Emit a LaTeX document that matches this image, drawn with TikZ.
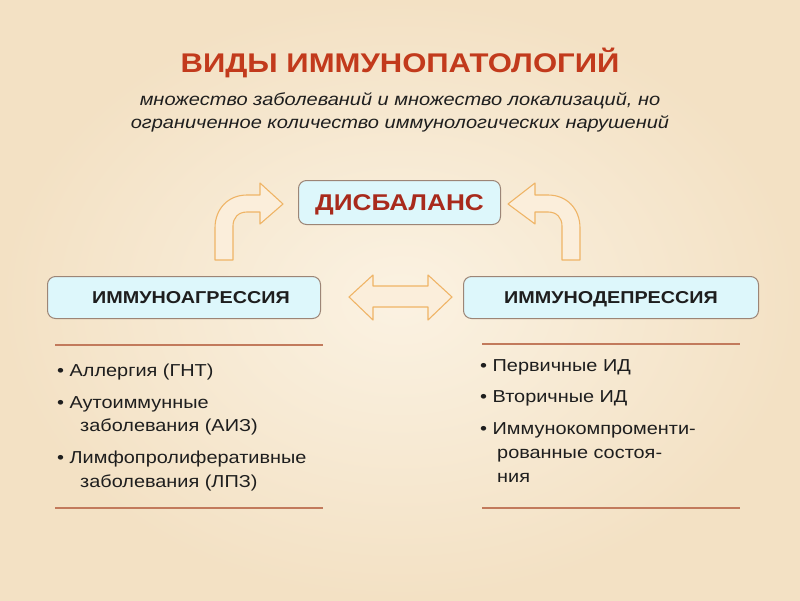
\documentclass[tikz,border=0pt]{standalone}
\usepackage{fontspec}
\setmainfont[FakeStretch=1.15]{Liberation Sans}
\definecolor{bgin}{HTML}{FBF2E2}
\definecolor{bgout}{HTML}{F3E1C4}
\definecolor{titlered}{HTML}{C23A1C}
\definecolor{disred}{HTML}{A82A1C}
\definecolor{boxfill}{HTML}{DDF7FB}
\definecolor{boxline}{HTML}{9C8576}
\definecolor{arrline}{HTML}{EFB466}
\definecolor{arrfill}{HTML}{FBEEDB}
\definecolor{rule}{HTML}{C27A5C}
\definecolor{txt}{HTML}{1E1E1E}
\tikzset{
  mainbox/.style={draw=boxline, line width=1pt, fill=boxfill, rounded corners=8pt, inner sep=0pt, anchor=north west},
  boxlabel/.style={anchor=base, inner sep=0pt, font=\fontsize{17.2}{20}\selectfont\bfseries, text=txt},
  blockarrow/.style={draw=arrline, line width=1.1pt, fill=arrfill, line join=round},
  rulerline/.style={draw=rule, line width=1.6pt},
  listtxt/.style={anchor=base west, inner sep=0pt, font=\fontsize{17.3}{20}\selectfont, text=txt},
}
\begin{document}
\begin{tikzpicture}[x=1pt,y=-1pt]
\shade[inner color=bgin, outer color=bgout] (0,0) rectangle (800,600);
\useasboundingbox (0,0) rectangle (800,600);
% title
\node[anchor=base] (title) at (400,72) {\fontsize{27}{30}\selectfont\bfseries\color{titlered}ВИДЫ ИММУНОПАТОЛОГИЙ};
\node[anchor=base] (sub1) at (400,105) {\fontsize{17.4}{20}\selectfont\itshape\color{txt}множество заболеваний и множество локализаций, но};
\node[anchor=base] (sub2) at (400,128) {\fontsize{17.4}{20}\selectfont\itshape\color{txt}ограниченное количество иммунологических нарушений};
% boxes
\node[mainbox, minimum width=202pt, minimum height=44pt] (dis) at (298,180) {};
\node[anchor=base, inner sep=0pt] at ([yshift=-8pt]dis.center) {\fontsize{22.8}{26}\selectfont\bfseries\color{disred}ДИСБАЛАНС};
\node[mainbox, minimum width=273pt, minimum height=42pt] (agr) at (47,276) {};
\node[boxlabel] at ([xshift=7pt,yshift=-6pt]agr.center) {ИММУНОАГРЕССИЯ};
\node[mainbox, minimum width=295pt, minimum height=42pt] (dep) at (463,276) {};
\node[boxlabel] at ([yshift=-6pt]dep.center) {ИММУНОДЕПРЕССИЯ};
% double arrow
\path[blockarrow] (349,297) -- (373,275) -- (373,286) -- (428,286) -- (428,275) -- (452,297)
  -- (428,320) -- (428,307) -- (373,307) -- (373,320) -- cycle;
% curved arrows
\path[blockarrow] (215,260) -- (215,228) .. controls (215,209) and (228,195) .. (247,195) -- (260,195)
  -- (260,183) -- (283,204) -- (260,224) -- (260,212) -- (247,212)
  .. controls (238,212) and (233,218) .. (233,226) -- (233,260) -- cycle;
\begin{scope}[xshift=795pt, xscale=-1]
\path[blockarrow] (215,260) -- (215,228) .. controls (215,209) and (228,195) .. (247,195) -- (260,195)
  -- (260,183) -- (287,204) -- (260,224) -- (260,212) -- (247,212)
  .. controls (238,212) and (233,218) .. (233,226) -- (233,260) -- cycle;
\end{scope}
% rules
\coordinate (l1a) at (55,345); \coordinate (l1b) at (323,345);
\coordinate (l2a) at (55,508); \coordinate (l2b) at (323,508);
\coordinate (r1a) at (482,344); \coordinate (r1b) at (740,344);
\coordinate (r2a) at (482,508); \coordinate (r2b) at (740,508);
\draw[rulerline] (l1a) -- (l1b);
\draw[rulerline] (l2a) -- (l2b);
\draw[rulerline] (r1a) -- (r1b);
\draw[rulerline] (r2a) -- (r2b);
% left list
\node[listtxt] (a1) at (57,376) {• Аллергия (ГНТ)};
\node[listtxt] (a2) at (57,408) {• Аутоиммунные};
\node[listtxt] (a3) at (80,431) {заболевания (АИЗ)};
\node[listtxt] (a4) at (57,463) {• Лимфопролиферативные};
\node[listtxt] (a5) at (80,487) {заболевания (ЛПЗ)};
% right list
\node[listtxt] (b1) at (480,371) {• Первичные ИД};
\node[listtxt] (b2) at (480,402) {• Вторичные ИД};
\node[listtxt] (b3) at (480,434) {• Иммунокомпроменти-};
\node[listtxt] (b4) at (497,458) {рованные состоя-};
\node[listtxt] (b5) at (497,482) {ния};
\end{tikzpicture}
\end{document}
